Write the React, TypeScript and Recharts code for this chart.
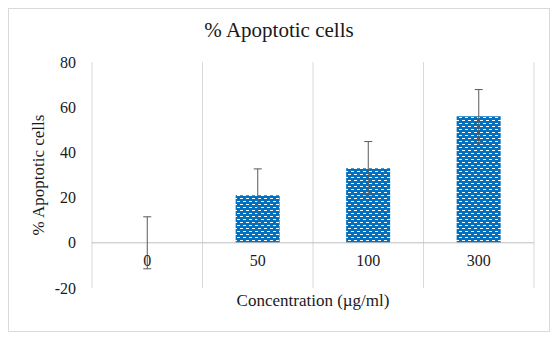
import React from 'react';
import { ComposedChart, Bar, Line, XAxis, YAxis, CartesianGrid, ErrorBar, ReferenceLine, ReferenceDot } from 'recharts';

const categories = ['0', '50', '100', '300'];
const apoptotic = [0, 21, 33, 56];
const errors = [11.5, 11.7, 11.8, 11.8];
const yTicks = [-20, 0, 20, 40, 60, 80];

const data = categories.map((c, i) => ({ conc: c, value: apoptotic[i], err: errors[i] }));

const FONT = '"Liberation Serif", "Times New Roman", serif';
const TEXT = '#1a1a1a';

export default function App() {
  return (
    <div
      style={{
        position: 'relative',
        width: 540,
        height: 322,
        border: '1px solid #d9d9d9',
        background: '#fff',
        fontFamily: FONT,
      }}
    >
      <div
        style={{
          position: 'absolute',
          top: 0,
          left: 0,
          width: '100%',
          textAlign: 'center',
          fontSize: 21,
          lineHeight: '42px',
          color: TEXT,
        }}
      >
        % Apoptotic cells
      </div>
      <ComposedChart
        width={540}
        height={322}
        data={data}
        margin={{ top: 53, right: 15, left: 0, bottom: 0 }}
        barCategoryGap="30%"
        style={{ fontFamily: FONT }}
      >
        <defs>
          <pattern id="dashPat" width="6" height="6" patternUnits="userSpaceOnUse">
            <rect x="0" y="0" width="6" height="6" fill="#0070C0" />
            <rect x="0" y="0" width="3" height="1" fill="#ffffff" />
            <rect x="3" y="3" width="3" height="1" fill="#ffffff" />
          </pattern>
        </defs>
        <CartesianGrid
          horizontal={false}
          stroke="#d9d9d9"
          verticalCoordinatesGenerator={({ offset }: any) =>
            Array.from({ length: categories.length + 1 }, (_, i) => offset.left + (i * offset.width) / categories.length)
          }
        />
        <XAxis
          dataKey="conc"
          tick={false}
          axisLine={false}
          tickLine={false}
          height={43}
          label={{
            value: 'Concentration (µg/ml)',
            position: 'insideBottom',
            offset: 25,
            fontSize: 17,
            fill: TEXT,
            fontFamily: FONT,
            style: { fontFamily: FONT },
          }}
        />
        <YAxis
          domain={[-20, 80]}
          ticks={yTicks}
          axisLine={false}
          tickLine={false}
          tickSize={8}
          tickMargin={8}
          width={83}
          tick={{ fontSize: 16, fill: TEXT, fontFamily: FONT, style: { fontFamily: FONT } }}
          label={{
            value: '% Apoptotic cells',
            angle: -90,
            position: 'insideLeft',
            offset: 29,
            fontSize: 17,
            fill: TEXT,
            fontFamily: FONT,
            style: { textAnchor: 'middle', fontFamily: FONT },
          }}
        />
        <ReferenceLine y={0} stroke="#bfbfbf" strokeWidth={1} />
        <Bar dataKey="value" fill="url(#dashPat)" isAnimationActive={false} />
        <Line
          dataKey="value"
          stroke="none"
          dot={false}
          activeDot={false}
          legendType="none"
          isAnimationActive={false}
        >
          <ErrorBar dataKey="err" width={4} stroke="#595959" strokeWidth={1} />
        </Line>
        {categories.map((c) => (
          <ReferenceDot
            key={c}
            x={c}
            y={0}
            r={0}
            fill="none"
            stroke="none"
            label={{
              value: c,
              position: 'bottom',
              offset: 12,
              fontSize: 16,
              fill: TEXT,
              fontFamily: FONT,
              style: { fontFamily: FONT },
            }}
          />
        ))}
      </ComposedChart>
    </div>
  );
}
